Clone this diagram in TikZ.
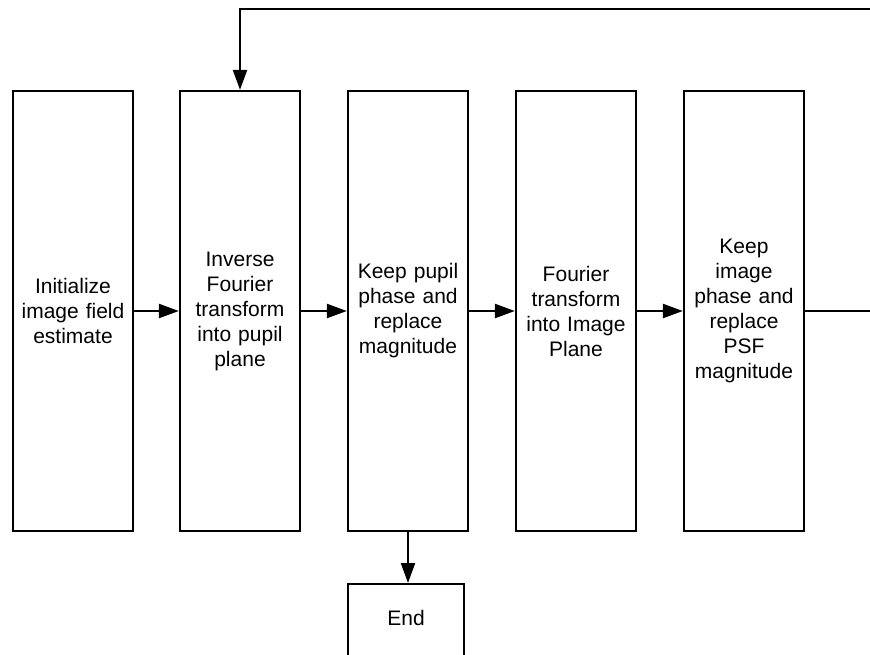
\documentclass[tikz,border=0pt]{standalone}
\usepackage{fontspec}
\setmainfont{Liberation Sans}
\usetikzlibrary{arrows.meta}
\begin{document}
\begin{tikzpicture}[x=1pt,y=-1pt,
  box/.style={draw, line width=2.3pt, minimum width=120pt, minimum height=440pt,
    align=center, text width=118pt, inner sep=0pt, font=\fontsize{21}{25}\selectfont},
  endbox/.style={draw, line width=2.3pt, minimum width=116pt, align=center, inner sep=0pt,
    anchor=north, text height=41pt, text depth=46pt, font=\fontsize{21}{25}\selectfont},
  arr/.style={line width=2.3pt, -{Triangle[length=20pt,width=14pt]}}]
\useasboundingbox (0,0) rectangle (870,654);
\node[box] (b1) at (73,311) {Initialize\\image field\\estimate};
\node[box] (b2) at (240,311) {Inverse\\Fourier\\transform\\into pupil\\plane};
\node[box] (b3) at (408,311) {Keep pupil\\phase and\\replace\\magnitude};
\node[box] (b4) at (576,311) {Fourier\\transform\\into Image\\Plane};
\node[box] (b5) at (744,311) {Keep\\image\\phase and\\replace\\PSF\\magnitude};
\node[endbox] (e) at (406,583) {End};
\coordinate (r1) at (880,311);
\coordinate (r2) at (880,9);
\coordinate (t1) at (240,9);
\draw[arr] (b1) -- (b2);
\draw[arr] (b2) -- (b3);
\draw[arr] (b3) -- (b4);
\draw[arr] (b4) -- (b5);
\draw[arr] (b3.south) -- (b3.south |- e.north);
\draw[arr] (b5.east) -- (r1) -- (r2) -- (t1) -- (b2.north);
\end{tikzpicture}
\end{document}
